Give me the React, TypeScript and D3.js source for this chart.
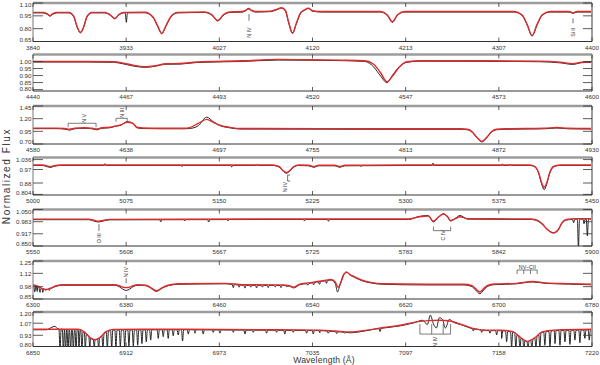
import React from 'react';
import * as d3 from 'd3';

type Pt = [number, number];

const L = 33;
const R = 592;
const FONT = '"Liberation Sans", Arial, sans-serif';
const RED = '#dd2a2c';

// ---------- panel 1 : 3840-4400 A ----------
const xLabels1 = ['3840', '3933', '4027', '4120', '4213', '4307', '4400'];
const yTicks1 = [0.65, 0.8, 0.95, 1.1];
const yLabels1 = ['0.65', '0.80', '0.95', '1.10'];
const model1: Pt[] = [
  [3840, 0.99], [3850, 0.99], [3854, 0.975], [3857, 0.952], [3860, 0.975], [3864, 0.99],
  [3876, 0.99], [3881, 0.94], [3884, 0.83], [3887.5, 0.757], [3891, 0.83], [3894, 0.94], [3899, 0.99],
  [3912, 0.99], [3917, 0.965], [3922, 0.92], [3926, 0.965], [3931, 0.99],
  [3952, 0.992], [3960, 0.94], [3965, 0.83], [3969, 0.745], [3973, 0.83], [3978, 0.94], [3985, 0.99],
  [4012, 0.995], [4019, 0.965], [4025, 0.895], [4031, 0.965], [4037, 0.995],
  [4050, 1.0], [4053, 1.015], [4056, 1.035], [4059, 1.015], [4063, 1.0],
  [4078, 1.005], [4084, 1.025], [4089, 1.045], [4093, 1.01], [4096, 0.88], [4100, 0.75], [4104, 0.87],
  [4108, 0.985], [4112, 1.02], [4116, 1.04], [4120, 1.01], [4130, 1.0],
  [4188, 1.0], [4195, 0.96], [4200, 0.88], [4205, 0.96], [4212, 1.0],
  [4322, 1.0], [4330, 0.96], [4335, 0.85], [4340, 0.72], [4345, 0.85], [4350, 0.96], [4358, 1.0],
  [4377, 1.0], [4381, 0.985], [4385, 1.0], [4400, 1.0],
];
const spikes1: Pt[] = [[3933.5, 0.88]];

// ---------- panel 2 : 4440-4600 A ----------
const xLabels2 = ['4440', '4467', '4493', '4520', '4547', '4573', '4600'];
const yTicks2 = [0.8, 0.85, 0.9, 0.95, 1.0];
const yLabels2 = ['0.80', '0.85', '0.90', '0.95', '1.00'];
const model2: Pt[] = [
  [4440, 1.0], [4455, 1.0], [4463, 0.998], [4466, 0.988], [4469, 0.972], [4472, 0.963], [4475, 0.97],
  [4478, 0.984], [4482, 0.986], [4487, 0.997], [4500, 1.005], [4510, 1.015], [4518, 1.013], [4528, 1.01],
  [4535, 1.006], [4537.5, 0.98], [4539.5, 0.92], [4541.3, 0.856], [4543, 0.9], [4545, 0.965], [4547, 0.998],
  [4551, 1.006], [4570, 1.005], [4585, 1.003], [4591, 0.995], [4594.5, 0.985], [4597, 0.995], [4600, 0.998],
];
const obs2: Pt[] = [
  [4440, 1.0], [4455, 1.0], [4463, 0.998], [4466, 0.986], [4469, 0.97], [4472, 0.962], [4475, 0.97],
  [4478, 0.984], [4482, 0.985], [4487, 0.997], [4500, 1.004], [4510, 1.014], [4518, 1.013], [4528, 1.01],
  [4535, 1.004], [4537.5, 0.965], [4539.5, 0.9], [4541.3, 0.853], [4543, 0.91], [4545, 0.97], [4547, 0.998],
  [4551, 1.006], [4570, 1.005], [4585, 1.002], [4591, 0.994], [4594.5, 0.983], [4597, 0.995], [4600, 0.998],
];
const spikes2: Pt[] = [];

// ---------- panel 3 : 4580-4930 A ----------
const xLabels3 = ['4580', '4638', '4697', '4755', '4813', '4872', '4930'];
const yTicks3 = [0.7, 0.95, 1.2, 1.45];
const yLabels3 = ['0.70', '0.95', '1.20', '1.45'];
const model3: Pt[] = [
  [4580, 1.013], [4595, 1.013], [4600, 1.005], [4603, 0.99], [4606, 1.01], [4612, 1.02], [4617, 1.01],
  [4620, 0.995], [4623, 1.02], [4628, 1.03], [4631, 1.05], [4635, 1.075], [4639, 1.128], [4642.8, 1.1],
  [4645, 1.03], [4649, 1.015], [4660, 1.01], [4675, 1.01], [4678, 1.022], [4683.5, 1.108], [4688.8, 1.187],
  [4692.9, 1.128], [4697, 1.07], [4703, 1.03], [4710, 1.005], [4720, 1.005], [4800, 1.0],
  [4848, 1.0], [4852, 0.99], [4855, 0.94], [4858, 0.83], [4861, 0.752], [4864, 0.83], [4867, 0.94],
  [4870, 0.99], [4876, 1.0], [4900, 1.01], [4908, 1.025], [4915, 1.01], [4930, 1.005],
];
const obs3: Pt[] = [
  [4580, 1.013], [4595, 1.013], [4600, 1.003], [4603, 0.985], [4606, 1.01], [4612, 1.02], [4617, 1.01],
  [4620, 0.99], [4623, 1.02], [4628, 1.03], [4631, 1.055], [4635, 1.085], [4639, 1.15], [4642.8, 1.11],
  [4645, 1.03], [4649, 1.015], [4660, 1.01], [4675, 1.01], [4678, 1.015], [4683.5, 1.07], [4688.8, 1.24],
  [4692.9, 1.15], [4697, 1.075], [4703, 1.03], [4710, 1.005], [4720, 1.005], [4800, 1.0],
  [4848, 1.0], [4852, 0.99], [4855, 0.94], [4858, 0.83], [4861, 0.75], [4864, 0.83], [4867, 0.94],
  [4870, 0.99], [4876, 1.0], [4900, 1.01], [4908, 1.025], [4915, 1.01], [4930, 1.005],
];
const spikes3: Pt[] = [];

// ---------- panel 4 : 5000-5450 A ----------
const xLabels4 = ['5000', '5075', '5150', '5225', '5300', '5375', '5450'];
const yTicks4 = [0.804, 0.88, 0.97, 1.036];
const yLabels4 = ['0.804', '0.88', '0.97', '1.036'];
const model4: Pt[] = [
  [5000, 1.0], [5008, 1.0], [5011, 0.994], [5014, 0.989], [5017, 0.995], [5022, 1.0], [5100, 1.0],
  [5193, 1.0], [5198, 0.99], [5201, 0.965], [5204, 0.95], [5207, 0.965], [5210, 0.99], [5214, 1.0],
  [5222, 0.998], [5226, 0.99], [5230, 0.998], [5243, 0.998], [5247, 0.99], [5251, 0.998], [5300, 1.0],
  [5400, 1.0], [5404, 0.99], [5407, 0.95], [5409.5, 0.88], [5411.5, 0.851], [5413.5, 0.88], [5416, 0.95],
  [5419, 0.99], [5424, 1.0], [5450, 1.0],
];
const obs4: Pt[] = [
  [5000, 1.0], [5008, 1.0], [5011, 0.993], [5014, 0.987], [5017, 0.995], [5022, 1.0], [5100, 1.0],
  [5193, 1.0], [5198, 0.99], [5201, 0.965], [5204, 0.948], [5207, 0.965], [5210, 0.99], [5214, 1.0],
  [5222, 0.998], [5226, 0.988], [5230, 0.998], [5243, 0.998], [5247, 0.988], [5251, 0.998], [5300, 1.0],
  [5400, 1.0], [5404, 0.99], [5407, 0.95], [5409.5, 0.875], [5411.5, 0.838], [5413.5, 0.875], [5416, 0.95],
  [5419, 0.99], [5424, 1.0], [5450, 1.0],
];
const spikes4: Pt[] = [
  [5058, 1.012], [5120, 0.993], [5160, 0.99], [5180, 1.006], [5264, 0.993], [5322, 1.016], [5378, 1.01], [5384, 1.008],
];

// ---------- panel 5 : 5550-5900 A ----------
const xLabels5 = ['5550', '5608', '5667', '5725', '5783', '5842', '5900'];
const yTicks5 = [0.85, 0.917, 0.983, 1.05];
const yLabels5 = ['0.850', '0.917', '0.983', '1.050'];
const model5: Pt[] = [
  [5550, 0.997], [5585, 0.997], [5588, 0.992], [5591, 0.986], [5594, 0.99], [5598, 0.996], [5700, 0.998],
  [5785, 0.998], [5792, 1.01], [5797.5, 1.014], [5800.7, 0.986], [5804, 1.01], [5807, 1.025], [5809.5, 1.012],
  [5811.5, 0.99], [5814.5, 1.0], [5817.4, 1.01], [5822, 1.0], [5862, 0.998], [5866, 0.99], [5869, 0.97],
  [5872, 0.94], [5875.8, 0.921], [5879, 0.94], [5881, 0.975], [5884, 0.995], [5890, 1.0], [5900, 1.0],
];
const obs5: Pt[] = [
  [5550, 0.997], [5585, 0.997], [5588, 0.99], [5591, 0.984], [5594, 0.99], [5598, 0.996], [5700, 0.998],
  [5785, 0.998], [5792, 1.015], [5797.5, 1.02], [5800.7, 0.984], [5804, 1.012], [5807, 1.03], [5809.5, 1.012],
  [5811.5, 0.99], [5814.5, 1.005], [5817.4, 1.02], [5822, 1.0], [5862, 0.998], [5866, 0.99], [5869, 0.97],
  [5872, 0.945], [5875.8, 0.926], [5879, 0.945], [5881, 0.975], [5884, 0.995], [5890, 1.0], [5900, 1.0],
];
const spikes5: Pt[] = [
  [5630, 0.985], [5645, 0.99], [5660, 0.984], [5672, 0.99], [5720, 0.99], [5735, 0.988],
  [5888.5, 0.98], [5891.5, 0.84], [5895, 0.975], [5897.1, 0.908],
];

// ---------- panel 6 : 6300-6780 A ----------
const xLabels6 = ['6300', '6380', '6460', '6540', '6620', '6700', '6780'];
const yTicks6 = [0.85, 0.98, 1.12, 1.25];
const yLabels6 = ['0.85', '0.98', '1.12', '1.25'];
const model6: Pt[] = [
  [6300, 0.997], [6304, 0.985], [6308, 0.96], [6311, 0.95], [6315, 0.965], [6320, 0.99], [6326, 1.0],
  [6370, 1.0], [6374, 0.99], [6377, 0.975], [6380, 0.97], [6383, 0.975], [6386, 0.99], [6390, 1.0],
  [6397, 0.995], [6401, 0.97], [6406, 0.937], [6411, 0.97], [6416, 0.995], [6425, 1.01], [6465, 1.015],
  [6480, 1.0], [6515, 0.998], [6520, 0.99], [6524, 0.975], [6529, 1.005], [6540, 1.025], [6550, 1.045],
  [6556, 1.055], [6559.5, 1.03], [6562, 0.973], [6564.5, 1.03], [6567, 1.11], [6569.3, 1.13], [6572, 1.11],
  [6575, 1.09], [6582, 1.05], [6590, 1.025], [6600, 1.01], [6640, 1.005], [6670, 1.005], [6677, 0.99],
  [6680, 0.96], [6683.7, 0.924], [6687, 0.96], [6690, 0.99], [6696, 1.008], [6715, 1.015], [6729, 1.035],
  [6740, 1.02], [6760, 1.012], [6780, 1.005],
];
const obs6: Pt[] = [
  [6300, 0.997], [6304, 0.985], [6308, 0.96], [6311, 0.95], [6315, 0.965], [6320, 0.99], [6326, 1.0],
  [6370, 1.0], [6374, 0.985], [6377, 0.96], [6380, 0.945], [6383, 0.96], [6386, 0.985], [6390, 1.0],
  [6397, 0.995], [6401, 0.97], [6406, 0.935], [6411, 0.97], [6416, 0.995], [6425, 1.01], [6465, 1.015],
  [6480, 1.0], [6515, 0.998], [6520, 0.99], [6524, 0.972], [6529, 1.005], [6540, 1.025], [6550, 1.045],
  [6556, 1.055], [6559.5, 1.02], [6561.5, 0.93], [6563.5, 1.0], [6567, 1.12], [6569.3, 1.14], [6572, 1.11],
  [6575, 1.09], [6582, 1.05], [6590, 1.025], [6600, 1.01], [6640, 1.003], [6670, 1.003], [6677, 0.985],
  [6680, 0.95], [6683.7, 0.91], [6687, 0.95], [6690, 0.985], [6696, 1.006], [6715, 1.015], [6729, 1.035],
  [6740, 1.02], [6760, 1.012], [6780, 1.005],
];
const spikes6: Pt[] = [
  [6301.5, 0.93], [6303.7, 0.935], [6306, 0.925], [6308.3, 0.925], [6311, 0.93], [6314, 0.945],
  [6472, 0.975], [6477, 0.98], [6482, 0.97], [6487, 0.98], [6492, 0.972], [6497, 0.98], [6502, 0.975],
  [6508, 0.982], [6513, 0.975], [6518, 0.985], [6536, 1.0], [6541, 1.005], [6546, 1.01], [6552, 1.02],
];

// ---------- panel 7 : 6850-7220 A ----------
const xLabels7 = ['6850', '6912', '6973', '7035', '7097', '7158', '7220'];
const yTicks7 = [0.8, 0.93, 1.07, 1.2];
const yLabels7 = ['0.80', '0.93', '1.07', '1.20'];
const model7: Pt[] = [
  [6850, 1.0], [6880, 1.0], [6884, 0.97], [6888, 0.9], [6891, 0.88], [6894, 0.9], [6898, 0.97], [6903, 0.998],
  [6950, 1.0], [7000, 0.995], [7040, 0.99], [7050, 0.98], [7060, 0.97], [7071, 0.99], [7082, 1.02],
  [7093, 1.047], [7104, 1.086], [7112, 1.1], [7119, 1.105], [7126, 1.095], [7133, 1.06], [7141, 1.01],
  [7150, 0.99], [7160, 0.99], [7168, 0.97], [7173, 0.9], [7177, 0.86], [7182, 0.9], [7187, 0.97],
  [7195, 0.99], [7220, 1.0],
];
const obs7: Pt[] = [
  [6850, 1.0], [6859, 1.0], [6862, 1.025], [6864.5, 1.04], [6866.5, 1.01], [6880, 1.0], [6884, 0.97],
  [6888, 0.9], [6891, 0.88], [6894, 0.9], [6898, 0.97], [6903, 0.998], [6950, 1.0], [7000, 0.995],
  [7040, 0.99], [7050, 0.978], [7060, 0.965], [7071, 0.99], [7082, 1.02], [7093, 1.045], [7102, 1.08],
  [7108, 1.11], [7111, 1.06], [7113, 1.17], [7115, 1.07], [7117, 1.02], [7119, 1.14], [7121, 1.12],
  [7123, 1.02], [7125.5, 1.12], [7128, 1.09], [7133, 1.06], [7141, 1.01], [7150, 0.99], [7160, 0.99],
  [7168, 0.97], [7173, 0.9], [7177, 0.86], [7182, 0.9], [7187, 0.97], [7195, 0.99], [7220, 1.0],
];
const spikes7: Pt[] = [
  [6867.9, 0.76], [6870.1, 0.76], [6871.6, 0.76], [6873.2, 0.76], [6874.9, 0.76], [6876.7, 0.77],
  [6878.5, 0.76], [6880.4, 0.77], [6882.4, 0.76], [6884.6, 0.78], [6887.7, 0.76], [6890.6, 0.77],
  [6893.5, 0.77], [6896.3, 0.78], [6899.2, 0.79], [6902.1, 0.79], [6904.9, 0.8], [6907.8, 0.8],
  [6910.7, 0.8], [6913.5, 0.81], [6916.4, 0.81], [6919.3, 0.82], [6922.1, 0.84], [6925, 0.86], [6927.9, 0.88],
  [6932.9, 0.9], [6936.2, 0.92], [6939.5, 0.9], [6942.8, 0.93], [6946.1, 0.94], [6949, 0.87], [6952.8, 0.95],
  [6957.2, 0.96], [6962.7, 0.95], [6969.3, 0.97], [6973.7, 0.96], [6982.6, 0.97], [6990.3, 0.95],
  [6995.8, 0.97], [7004.6, 0.96], [7011.2, 0.97], [7016.7, 0.95], [7022.3, 0.97],
  [7031.1, 0.96], [7035.5, 0.95], [7039.9, 0.965], [7045.4, 0.96], [7051, 0.955], [7056.5, 0.96], [7079.7, 0.98],
  [7141.4, 0.985], [7147, 0.97], [7152.5, 0.96], [7156.9, 0.94], [7160.2, 0.9], [7163.5, 0.86], [7166.8, 0.8],
  [7169.6, 0.78], [7172.3, 0.77], [7174.9, 0.77], [7177.6, 0.78], [7180.2, 0.78], [7182.9, 0.79],
  [7185.5, 0.8], [7188.8, 0.82], [7192.2, 0.8], [7195.5, 0.84], [7198.8, 0.82], [7202.1, 0.86],
  [7205.4, 0.83], [7208.7, 0.88], [7212, 0.85], [7215.3, 0.9], [7218.2, 0.88],
];

// ---------- line identifications ----------
type Note = {
  kind: 'tick' | 'bracket';
  at?: number; from: number; to: number; y?: number; legY?: number; legs?: number[];
  serif?: boolean; text: string; textX: number; textY: number; flat?: boolean;
};
const notes1: Note[] = [
  { kind: 'tick', at: 4056.4, from: 0.97, to: 0.893, text: 'N IV', textX: 4056.4, textY: 0.755 },
  { kind: 'tick', at: 4381, from: 0.92, to: 0.863, text: 'Si II', textX: 4381, textY: 0.758 },
];
const notes2: Note[] = [];
const notes3: Note[] = [
  { kind: 'bracket', from: 4602, to: 4619.5, y: 1.109, legY: 1.03, text: 'N V', textX: 4612, textY: 1.207 },
  { kind: 'bracket', from: 4632, to: 4639, y: 1.207, legY: 1.14, text: 'N III', textX: 4636, textY: 1.312 },
];
const notes4: Note[] = [
  { kind: 'tick', at: 5205, from: 0.933, to: 0.893, serif: true, text: 'N IV', textX: 5203, textY: 0.853 },
];
const notes5: Note[] = [
  { kind: 'tick', at: 5591.3, from: 0.97, to: 0.932, text: 'O III', textX: 5591.3, textY: 0.892 },
  { kind: 'bracket', from: 5800.7, to: 5811.5, y: 0.934, legY: 0.956, text: 'C IV', textX: 5807, textY: 0.909 },
];
const notes6: Note[] = [
  { kind: 'tick', at: 6380, from: 1.068, to: 1.015, text: 'N IV', textX: 6380, textY: 1.134 },
  {
    kind: 'bracket', from: 6715.7, to: 6732.9, y: 1.155, legY: 1.113, legs: [6721.4, 6727.2],
    text: 'NV\u2013CII', textX: 6724.5, textY: 1.19, flat: true,
  },
];
const notes7: Note[] = [
  {
    kind: 'bracket', from: 7106.1, to: 7126.4, y: 0.944, legY: 1.06, legs: [7113.9, 7121.5],
    text: 'N IV', textX: 7116, textY: 0.855,
  },
];

type PanelCfg = {
  xDomain: [number, number]; yDomain: [number, number]; top: number; bottom: number;
  xLabels: string[]; yTicks: number[]; yLabels: string[];
  model: Pt[]; obs: Pt[]; spikes: Pt[]; notes: Note[];
};

const panels: PanelCfg[] = [
  { xDomain: [3840, 4400], yDomain: [0.65, 1.1], top: 3, bottom: 41.5, xLabels: xLabels1, yTicks: yTicks1, yLabels: yLabels1, model: model1, obs: model1, spikes: spikes1, notes: notes1 },
  { xDomain: [4440, 4600], yDomain: [0.79, 1.05], top: 54.5, bottom: 91, xLabels: xLabels2, yTicks: yTicks2, yLabels: yLabels2, model: model2, obs: obs2, spikes: spikes2, notes: notes2 },
  { xDomain: [4580, 4930], yDomain: [0.7, 1.45], top: 106, bottom: 144, xLabels: xLabels3, yTicks: yTicks3, yLabels: yLabels3, model: model3, obs: obs3, spikes: spikes3, notes: notes3 },
  { xDomain: [5000, 5450], yDomain: [0.8, 1.05], top: 157.5, bottom: 195, xLabels: xLabels4, yTicks: yTicks4, yLabels: yLabels4, model: model4, obs: obs4, spikes: spikes4, notes: notes4 },
  { xDomain: [5550, 5900], yDomain: [0.85, 1.05], top: 209.5, bottom: 246, xLabels: xLabels5, yTicks: yTicks5, yLabels: yLabels5, model: model5, obs: obs5, spikes: spikes5, notes: notes5 },
  { xDomain: [6300, 6780], yDomain: [0.85, 1.25], top: 261, bottom: 299, xLabels: xLabels6, yTicks: yTicks6, yLabels: yLabels6, model: model6, obs: obs6, spikes: spikes6, notes: notes6 },
  { xDomain: [6850, 7220], yDomain: [0.8, 1.2], top: 312, bottom: 346.5, xLabels: xLabels7, yTicks: yTicks7, yLabels: yLabels7, model: model7, obs: obs7, spikes: spikes7, notes: notes7 },
];

// put the narrow absorption spikes into the observed spectrum
function withSpikes(obs: Pt[], spikes: Pt[], hw: number): Pt[] {
  const bis = d3.bisector((d: Pt) => d[0]).left;
  const at = (l: number) => {
    const i = Math.max(1, Math.min(obs.length - 1, bis(obs, l)));
    const a = obs[i - 1];
    const b = obs[i];
    const t = (l - a[0]) / (b[0] - a[0]);
    return a[1] + t * (b[1] - a[1]);
  };
  const pts: Pt[] = obs.slice();
  spikes.forEach(([l, d]) => {
    pts.push([l - hw, at(l - hw)], [l, d], [l + hw, at(l + hw)]);
  });
  pts.sort((a, b) => a[0] - b[0]);
  return pts.filter((p, i) => i === 0 || p[0] > pts[i - 1][0] + 1e-6);
}

const Panel = ({ p, idx }: { p: PanelCfg; idx: number }) => {
  const x = d3.scaleLinear().domain(p.xDomain).range([L, R]);
  const y = d3.scaleLinear().domain(p.yDomain).range([p.bottom, p.top]);
  const line = d3.line<Pt>().x(d => x(d[0])).y(d => y(d[1])).curve(d3.curveMonotoneX);
  const hw = x.invert(L + 1.1) - p.xDomain[0];
  const obsPts = withSpikes(p.obs, p.spikes, hw);
  const xt = d3.range(p.xLabels.length).map(i =>
    p.xDomain[0] + (i * (p.xDomain[1] - p.xDomain[0])) / (p.xLabels.length - 1));
  const clip = `clip-${idx}`;
  // keep the end labels of the y axis inside the panel height
  const labelY = (v: number) => Math.max(p.top + 1.6, Math.min(p.bottom - 2.4, y(v)));

  return (
    <g>
      <defs>
        <clipPath id={clip}>
          <rect x={L} y={p.top} width={R - L} height={p.bottom - p.top} />
        </clipPath>
      </defs>
      <g clipPath={`url(#${clip})`}>
        <path d={line(obsPts) || ''} fill="none" stroke="#111" strokeWidth={0.9} transform="translate(0,0.5)" />
        <path d={line(p.model) || ''} fill="none" stroke={RED} strokeWidth={1.4} />
      </g>

      {/* frame */}
      <line x1={L} x2={R} y1={p.top} y2={p.top} stroke="#9c9c9c" strokeWidth={2.4} />
      <line x1={R} x2={R} y1={p.top} y2={p.bottom} stroke="#9c9c9c" strokeWidth={2} />
      <line x1={L} x2={L} y1={p.top} y2={p.bottom} stroke="#777" strokeWidth={1} />
      <line x1={L} x2={R} y1={p.bottom} y2={p.bottom} stroke="#333" strokeWidth={1} />

      {p.yTicks.map((v, i) => (
        <g key={`y${i}`}>
          <line x1={L} x2={L + 10} y1={y(v)} y2={y(v)} stroke="#333" strokeWidth={0.8} />
          <line x1={R - 9} x2={R} y1={y(v)} y2={y(v)} stroke="#333" strokeWidth={0.8} />
          <text x={L - 1.5} y={labelY(v)} textAnchor="end" dominantBaseline="central"
            fontSize={6.2} fontFamily={FONT} fill="#333">{p.yLabels[i]}</text>
        </g>
      ))}
      {xt.map((v, i) => (
        <g key={`x${i}`}>
          <line x1={x(v)} x2={x(v)} y1={p.bottom} y2={p.bottom - 4} stroke="#333" strokeWidth={0.8} />
          <line x1={x(v)} x2={x(v)} y1={p.top} y2={p.top + 4} stroke="#333" strokeWidth={0.8} />
          <text x={x(v)} y={p.bottom + 5.6} textAnchor="middle" dominantBaseline="central"
            fontSize={6.2} fontFamily={FONT} fill="#333">{p.xLabels[i]}</text>
        </g>
      ))}

      {p.notes.map((n, i) => {
        const tx = x(n.textX);
        const ty = y(n.textY);
        const label = (
          <text x={tx} y={ty} textAnchor="middle" dominantBaseline="central" fontSize={5.3}
            fontFamily={FONT} fill="#333" transform={n.flat ? undefined : `rotate(-90 ${tx} ${ty})`}>
            {n.text}
          </text>
        );
        if (n.kind === 'tick') {
          const xa = x(n.at as number);
          return (
            <g key={`n${i}`}>
              <line x1={xa} x2={xa} y1={y(n.from)} y2={y(n.to)} stroke="#333" strokeWidth={0.7} />
              {n.serif && (
                <>
                  <line x1={xa} x2={xa + 2.5} y1={y(n.from)} y2={y(n.from)} stroke="#333" strokeWidth={0.7} />
                  <line x1={xa} x2={xa + 2.5} y1={y(n.to)} y2={y(n.to)} stroke="#333" strokeWidth={0.7} />
                </>
              )}
              {label}
            </g>
          );
        }
        const legs = [n.from, n.to, ...(n.legs || [])];
        return (
          <g key={`n${i}`}>
            <line x1={x(n.from)} x2={x(n.to)} y1={y(n.y as number)} y2={y(n.y as number)} stroke="#444" strokeWidth={0.7} />
            {legs.map((l, j) => (
              <line key={j} x1={x(l)} x2={x(l)} y1={y(n.y as number)} y2={y(n.legY as number)} stroke="#444" strokeWidth={0.7} />
            ))}
            {label}
          </g>
        );
      })}
    </g>
  );
};

const App = () => (
  <svg width={600} height={365} style={{ display: 'block', position: 'absolute', left: 0, top: 0, background: '#fff' }}>
    {panels.map((p, i) => <Panel key={i} p={p} idx={i} />)}
    <text x={10} y={176} transform="rotate(-90 10 176)" textAnchor="middle" fontSize={10}
      letterSpacing={1.6} fontFamily={FONT} fill="#333">Normalized Flux</text>
    <text x={324} y={363.2} textAnchor="middle" fontSize={8.6} letterSpacing={0.2}
      fontFamily={FONT} fill="#333">Wavelength (Å)</text>
  </svg>
);

export default App;
